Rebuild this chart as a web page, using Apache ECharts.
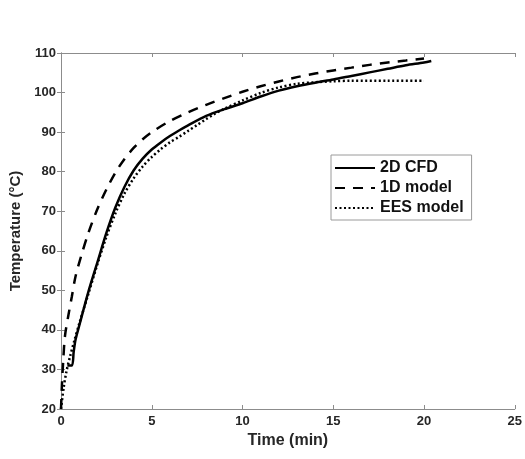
<!DOCTYPE html>
<html>
<head>
<meta charset="utf-8">
<script src="https://cdn.jsdelivr.net/npm/echarts@6/dist/echarts.min.js"></script>
<style>
  html, body { margin: 0; padding: 0; background: #fff; }
  #chart { width: 525px; height: 459px; }
</style>
</head>
<body>
<div id="chart"></div>
<script>
// Heating curves: temperature vs time for three models
const cfdTime = [0.35, 0.6, 0.7, 0.8, 1.0, 1.5, 2.0, 2.5, 3.0, 3.5, 4.0, 4.5, 5.0, 5.5, 6.0, 6.5, 7.0, 8.0, 9.0, 10.0, 11.0, 12.0, 13.0, 14.0, 15.0, 16.0, 17.0, 18.0, 19.0, 20.0, 20.4];
const cfdTemp = [31, 31, 34.5, 37.5, 41, 49.5, 57, 64.5, 71, 76.2, 80.3, 83.3, 85.6, 87.4, 89, 90.4, 91.7, 94.1, 95.8, 97.3, 99, 100.5, 101.6, 102.5, 103.3, 104.2, 105.1, 106, 106.9, 107.6, 108];

const oneDTime = [0, 0.05, 0.12, 0.22, 0.4, 0.6, 0.8, 1.1, 1.5, 2.0, 2.5, 3.0, 3.5, 4.0, 4.5, 5.0, 6.0, 7.0, 8.0, 9.0, 10.0, 11.0, 12.0, 13.0, 14.0, 15.0, 16.0, 17.0, 18.0, 19.0, 20.0];
const oneDTemp = [20, 26, 32, 38.5, 43.5, 48.5, 53.5, 58.5, 64.4, 70.5, 75.5, 79.8, 83.2, 86, 88.2, 90, 92.8, 95, 96.9, 98.6, 100.2, 101.6, 102.8, 103.9, 104.8, 105.6, 106.3, 107, 107.6, 108.1, 108.6];

const eesTime = [0, 0.15, 0.3, 0.5, 0.75, 1.0, 1.5, 2.0, 2.5, 3.0, 3.5, 4.0, 4.5, 5.0, 5.5, 6.0, 6.5, 7.0, 7.5, 8.0, 8.5, 9.0, 10.0, 11.0, 12.0, 13.0, 14.0, 15.0, 16.0, 18.0, 20.0];
const eesTemp = [20, 25.5, 29.5, 33.3, 37.5, 41.5, 49, 56.5, 63.5, 69.5, 74.5, 78.3, 81.3, 83.7, 85.7, 87.4, 88.8, 90.3, 91.8, 93.3, 94.7, 95.9, 98, 99.9, 101.3, 102.2, 102.6, 102.85, 103, 103, 103];

const seriesNames = ['2D CFD', '1D model', 'EES model'];
const xTicks = { min: 0, max: 25, interval: 5 };
const yTicks = { min: 20, max: 110, interval: 10 };

const pairs = (xs, ys) => xs.map((x, i) => [x, ys[i]]);

const textColor = '#262626';
const axisColor = '#8c8c8c';
const font = 'Liberation Sans, Arial, sans-serif';

const baseAxis = {
  axisLine: { show: true, lineStyle: { color: axisColor, width: 1 } },
  axisTick: { show: true, inside: true, length: 4, lineStyle: { color: axisColor, width: 1 } },
  splitLine: { show: false }
};

const lineSeries = (name, xs, ys, dash, z) => ({
  name, type: 'line', symbol: 'none',
  smooth: 0.3,
  data: pairs(xs, ys),
  lineStyle: { color: '#000', width: 2.5, type: dash },
  itemStyle: { color: '#000' }, z
});

const chart = echarts.init(document.getElementById('chart'), null, { renderer: 'canvas' });
chart.setOption({
  animation: false,
  backgroundColor: '#fff',
  grid: { left: 61, right: 10, top: 53, bottom: 50, containLabel: false },
  legend: {
    orient: 'vertical',
    left: 331,
    top: 155,
    data: seriesNames,
    itemWidth: 40,
    itemHeight: 10,
    itemGap: 4,
    padding: [5, 8, 4, 3],
    borderColor: '#9a9a9a',
    borderWidth: 1,
    itemStyle: { opacity: 0 },
    textStyle: { color: '#111', fontWeight: 'bold', fontSize: 16, fontFamily: font }
  },
  xAxis: [
    Object.assign({}, baseAxis, {
      type: 'value', position: 'bottom', ...xTicks,
      name: 'Time (min)', nameLocation: 'middle', nameGap: 22,
      nameTextStyle: { color: textColor, fontWeight: 'bold', fontSize: 16, fontFamily: font },
      axisLabel: { color: textColor, fontWeight: 'bold', fontSize: 13, fontFamily: font, margin: 6 }
    }),
    Object.assign({}, baseAxis, {
      type: 'value', position: 'top', ...xTicks,
      axisLabel: { show: false }
    })
  ],
  yAxis: [
    Object.assign({}, baseAxis, {
      type: 'value', position: 'left', ...yTicks,
      name: 'Temperature (°C)', nameLocation: 'middle', nameGap: 34,
      nameTextStyle: { color: textColor, fontWeight: 'bold', fontSize: 15, fontFamily: font },
      axisLabel: { color: textColor, fontWeight: 'bold', fontSize: 13, fontFamily: font, margin: 5 }
    }),
    Object.assign({}, baseAxis, {
      type: 'value', position: 'right', ...yTicks,
      axisLabel: { show: false }
    })
  ],
  series: [
    lineSeries(seriesNames[0], cfdTime, cfdTemp, 'solid', 3),
    lineSeries(seriesNames[1], oneDTime, oneDTemp, [10, 8], 2),
    lineSeries(seriesNames[2], eesTime, eesTemp, [2, 2.5], 2)
  ]
});
</script>
</body>
</html>
